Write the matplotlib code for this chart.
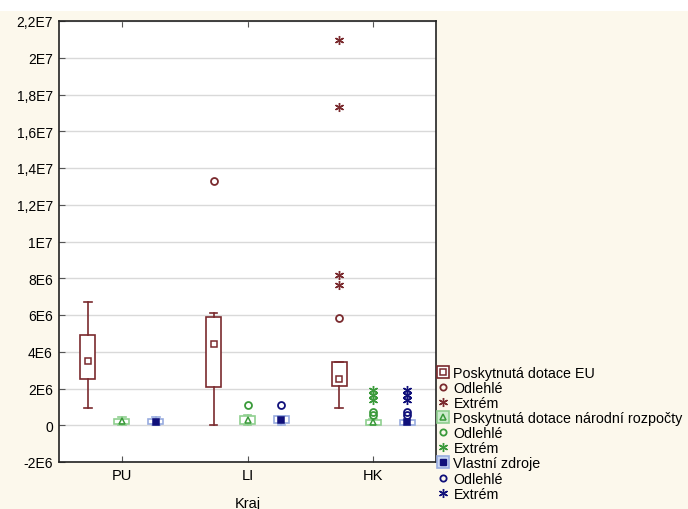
import matplotlib.pyplot as plt
import numpy as np
from matplotlib.lines import Line2D
from matplotlib.legend_handler import HandlerTuple
from matplotlib.patches import Rectangle

plt.rcParams['font.family'] = ['Liberation Sans', 'DejaVu Sans']

regions = ['PU', 'LI', 'HK']

# box statistics per region: [whisker low, q1, median, q3, whisker high]
eu_stats = [[0.93e6, 2.49e6, 3.47e6, 4.91e6, 6.73e6],
            [0.02e6, 2.10e6, 4.43e6, 5.90e6, 6.13e6],
            [0.93e6, 2.14e6, 2.50e6, 3.43e6, 3.43e6]]
nat_stats = [[0.00e6, 0.05e6, 0.22e6, 0.32e6, 0.45e6],
             [0.00e6, 0.05e6, 0.30e6, 0.52e6, 0.55e6],
             [0.00e6, 0.03e6, 0.20e6, 0.30e6, 0.33e6]]
own_stats = [[0.02e6, 0.08e6, 0.18e6, 0.32e6, 0.45e6],
             [0.00e6, 0.10e6, 0.30e6, 0.50e6, 0.52e6],
             [0.00e6, 0.02e6, 0.15e6, 0.28e6, 0.30e6]]

# outliers (circles) and extremes (asterisks)
eu_out = [[], [13.3e6], [5.86e6]]
eu_ext = [[], [], [7.62e6, 8.2e6, 17.3e6, 20.95e6]]
nat_out = [[], [1.09e6], [0.56e6, 0.72e6]]
nat_ext = [[], [], [1.38e6, 1.63e6, 1.92e6]]
own_out = [[], [1.09e6], [0.56e6, 0.72e6]]
own_ext = [[], [], [1.40e6, 1.65e6, 1.92e6]]

y_ticks = np.arange(-2e6, 2.3e7, 2e6)
y_labels = ['-2E6', '0', '2E6', '4E6', '6E6', '8E6', '1E7', '1,2E7', '1,4E7',
            '1,6E7', '1,8E7', '2E7', '2,2E7']

eu_col = '#7a2a2e'
nat_col = '#3a9a3a'
nat_box = '#8fcf8f'
own_col = '#10107a'
own_box = '#98acdf'
cream = '#fcf8ec'

fig = plt.figure(figsize=(6.88, 5.10), dpi=100)
fig.patch.set_facecolor('white')
fig.patches.append(Rectangle((0, 0), 1, 1 - 12 / 510, transform=fig.transFigure,
                             facecolor=cream, edgecolor='none', zorder=-10))
ax = fig.add_axes([59 / 688, 1 - 463 / 510, 377 / 688, 441 / 510])
ax.set_facecolor('white')

x = np.arange(1, len(regions) + 1)
offsets = [-0.27, 0.0, 0.27]
series = [
    (eu_stats, eu_out, eu_ext, eu_col, eu_col, 's', 'white'),
    (nat_stats, nat_out, nat_ext, nat_col, nat_box, '^', 'none'),
    (own_stats, own_out, own_ext, own_col, own_box, 's', own_col),
]

for (stats, outs, exts, col, boxcol, mk, mfc), off in zip(series, offsets):
    bstats = [dict(whislo=s[0], q1=s[1], med=s[2], q3=s[3], whishi=s[4]) for s in stats]
    lc = col if col == eu_col else boxcol
    ax.bxp(bstats, positions=x + off, widths=0.12, capwidths=0.06,
           showfliers=False, manage_ticks=False, patch_artist=True,
           boxprops=dict(facecolor='white', edgecolor=boxcol, linewidth=1.2),
           whiskerprops=dict(color=lc, linewidth=1.2),
           capprops=dict(color=lc, linewidth=1.2),
           medianprops=dict(linewidth=0))
    meds = [s[2] for s in stats]
    ax.plot(x + off, meds, linestyle='none', marker=mk, markersize=5,
            markerfacecolor=mfc, markeredgecolor=col, markeredgewidth=1.1, zorder=5)
    for i in range(len(regions)):
        if outs[i]:
            ax.plot([x[i] + off] * len(outs[i]), outs[i], linestyle='none', marker='o',
                    markersize=5, markerfacecolor='none', markeredgecolor=col,
                    markeredgewidth=1.3, zorder=5)
        if exts[i]:
            ax.plot([x[i] + off] * len(exts[i]), exts[i], linestyle='none',
                    marker=(6, 2, 0), markersize=6.5, color=col,
                    markeredgewidth=1.0, zorder=5)

ax.set_xlim(0.5, 3.5)
ax.set_ylim(-2e6, 2.2e7)
ax.set_xticks(x)
ax.set_xticklabels(regions, fontsize=10.5)
ax.set_yticks(y_ticks)
ax.set_yticklabels(y_labels, fontsize=10)
ax.tick_params(direction='in', length=4, color='#555555', top=True, right=False,
               pad=4.5)
ax.grid(axis='y', color='#d9d9d9', linewidth=1)
ax.set_axisbelow(True)
for sp in ax.spines.values():
    sp.set_color('#222222')
    sp.set_linewidth(1.2)

fig.text(248 / 688, 1 - 508.5 / 510, 'Kraj', fontsize=10.5, ha='center', va='baseline')

handles = [
    (Line2D([], [], ls='none', marker='s', markersize=9, mfc='white', mec=eu_col, mew=1.2),
     Line2D([], [], ls='none', marker='s', markersize=4, mfc='white', mec=eu_col, mew=1.1)),
    Line2D([], [], ls='none', marker='o', markersize=4.5, mfc='none', mec=eu_col, mew=1.3),
    Line2D([], [], ls='none', marker=(6, 2, 0), markersize=6.5, color=eu_col, mew=1.0),
    (Line2D([], [], ls='none', marker='s', markersize=9, mfc='#cdeccd', mec=nat_box, mew=1.2),
     Line2D([], [], ls='none', marker='^', markersize=4.5, mfc='none', mec=nat_col, mew=1.1)),
    Line2D([], [], ls='none', marker='o', markersize=4.5, mfc='none', mec=nat_col, mew=1.3),
    Line2D([], [], ls='none', marker=(6, 2, 0), markersize=6.5, color=nat_col, mew=1.0),
    (Line2D([], [], ls='none', marker='s', markersize=9, mfc='#c9d6f3', mec=own_box, mew=1.2),
     Line2D([], [], ls='none', marker='s', markersize=4.5, mfc=own_col, mec=own_col, mew=1.0)),
    Line2D([], [], ls='none', marker='o', markersize=4.5, mfc='none', mec=own_col, mew=1.3),
    Line2D([], [], ls='none', marker=(6, 2, 0), markersize=6.5, color=own_col, mew=1.0),
]
labels = ['Poskytnutá dotace EU', 'Odlehlé', 'Extrém',
          'Poskytnutá dotace národní rozpočty', 'Odlehlé', 'Extrém',
          'Vlastní zdroje', 'Odlehlé', 'Extrém']
fig.legend(handles, labels, loc='upper left', bbox_to_anchor=(437 / 688, 1 - 367 / 510),
           frameon=False, fontsize=10.3, borderpad=0, borderaxespad=0,
           handlelength=0.85, handletextpad=0.3, labelspacing=0.075,
           handler_map={tuple: HandlerTuple(ndivide=1, pad=0)})

fig.savefig('out.png', dpi=100, facecolor=fig.get_facecolor())
